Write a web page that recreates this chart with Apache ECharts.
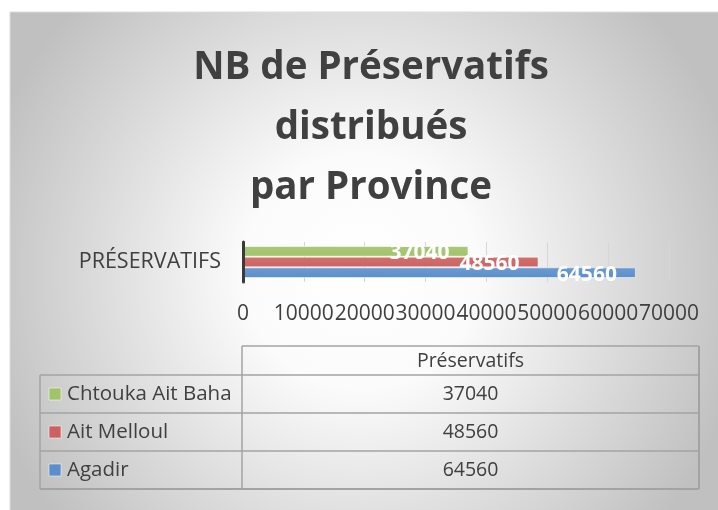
<!DOCTYPE html>
<html>
<head>
<meta charset="utf-8">
<script src="https://cdn.jsdelivr.net/npm/echarts@6/dist/echarts.min.js"></script>
<style>
    html, body {margin: 0; padding: 0; background: #fff;}
    #chart {width: 718px; height: 510px;}
</style>
</head>
<body>
<div id="chart"></div>
<script>
// données (ordre Excel : la première série est en bas)
const categories = ['PRÉSERVATIFS'];
const tableHeader = 'Préservatifs';
const provinces = ['Agadir', 'Ait Melloul', 'Chtouka Ait Baha'];
const values = [64560, 48560, 37040];
const colors = ['#5b8fcb', '#cc625f', '#a1c36a'];
const xTicks = [0, 70000, 10000]; // min, max, pas

const font = 'Open Sans';
const textColor = '#404040';

let myChart = echarts.init(document.getElementById('chart'));

//tableau de données sous le graphique
const buildTable = () => {
    let left = 40, mid = 242, right = 699, top = 346, headH = 29, rowH = 38;
    let bottom = top + headH + rowH * provinces.length;
    let line = '#a3a3a3';
    let els = [];
    const seg = (x1, y1, x2, y2, w) => els.push({
        type: 'line', shape: {x1, y1, x2, y2}, style: {stroke: line, lineWidth: w || 1.5}, z: 5
    });
    // en-tête
    seg(mid, top, right, top);
    seg(mid, top, mid, bottom);
    seg(right, top, right, bottom, 2);
    seg(left, top + headH, left, bottom);
    seg(left, bottom, right, bottom, 2);
    els.push({
        type: 'text', x: (mid + right) / 2, y: top + headH / 2 + 1, z: 6,
        style: {text: tableHeader, fill: textColor, fontSize: 19.5, fontFamily: font, align: 'center', verticalAlign: 'middle'}
    });
    // lignes : la dernière série en haut
    for (let r = 0; r < provinces.length; r++) {
        let i = provinces.length - 1 - r;
        let y0 = top + headH + r * rowH;
        seg(left, y0, right, y0);
        els.push({
            type: 'rect', shape: {x: 49, y: y0 + rowH / 2 - 6, width: 12, height: 12}, z: 6,
            style: {fill: colors[i], stroke: 'rgba(255,255,255,0.5)', lineWidth: 1}
        });
        els.push({
            type: 'text', x: 67, y: y0 + rowH / 2, z: 6,
            style: {text: provinces[i], fill: textColor, fontSize: 20.5, fontFamily: font, align: 'left', verticalAlign: 'middle'}
        });
        els.push({
            type: 'text', x: (mid + right) / 2, y: y0 + rowH / 2, z: 6,
            style: {text: String(values[i]), fill: textColor, fontSize: 19.5, fontFamily: font, align: 'center', verticalAlign: 'middle'}
        });
    }
    return els;
};

const option = {
    animation: false,
    title: {
        text: 'NB de Préservatifs\ndistribués\npar Province',
        left: 366,
        top: 33,
        textAlign: 'center',
        textStyle: {fontFamily: font, fontWeight: 'bold', fontSize: 38.5, lineHeight: 60, color: textColor}
    },
    graphic: [
        {
            type: 'rect', z: -10, silent: true,
            shape: {x: 10, y: 12, width: 730, height: 520},
            style: {
                fill: new echarts.graphic.RadialGradient(0.48, 0.5, 0.75, [
                    {offset: 0, color: '#ffffff'},
                    {offset: 0.3, color: '#fbfbfb'},
                    {offset: 1, color: '#c0c0c0'}
                ]),
                stroke: '#dcdcdc', lineWidth: 1
            }
        }
    ].concat(buildTable()),
    grid: {left: 243, right: 49, top: 242, height: 40, containLabel: false},
    xAxis: {
        type: 'value',
        min: xTicks[0], max: xTicks[1], interval: xTicks[2],
        axisLine: {show: false},
        axisTick: {show: false},
        splitLine: {showMinLine: false, lineStyle: {color: '#d6d6d6', width: 1}},
        axisLabel: {
            color: textColor, fontFamily: font, fontSize: 21, margin: 22,
            hideOverlap: false, showMinLabel: true, showMaxLabel: true,
            formatter: v => String(v)
        }
    },
    yAxis: {
        type: 'category',
        data: categories,
        z: 10,
        axisLine: {lineStyle: {color: '#3a3a3a', width: 3}},
        axisTick: {show: false},
        axisLabel: {color: textColor, fontFamily: font, fontSize: 21.5, margin: 22}
    },
    // ECharts empile la première série en haut : on inverse l'ordre
    series: provinces.map((name, i) => ({
        name,
        type: 'bar',
        barGap: '0%',
        barCategoryGap: '20%',
        data: [values[i]],
        itemStyle: {
            color: new echarts.graphic.LinearGradient(0, 0, 0, 1, [
                {offset: 0, color: echarts.color.lift(colors[i], 0.1)},
                {offset: 1, color: colors[i]}
            ]),
            borderColor: 'rgba(255,255,255,0.55)',
            borderWidth: 1
        },
        label: {
            show: true,
            position: 'insideRight',
            offset: [-14, 2],
            color: '#fff',
            fontFamily: font,
            fontWeight: 'bold',
            fontSize: 21
        }
    })).reverse()
};

myChart.setOption(option);
</script>
</body>
</html>
